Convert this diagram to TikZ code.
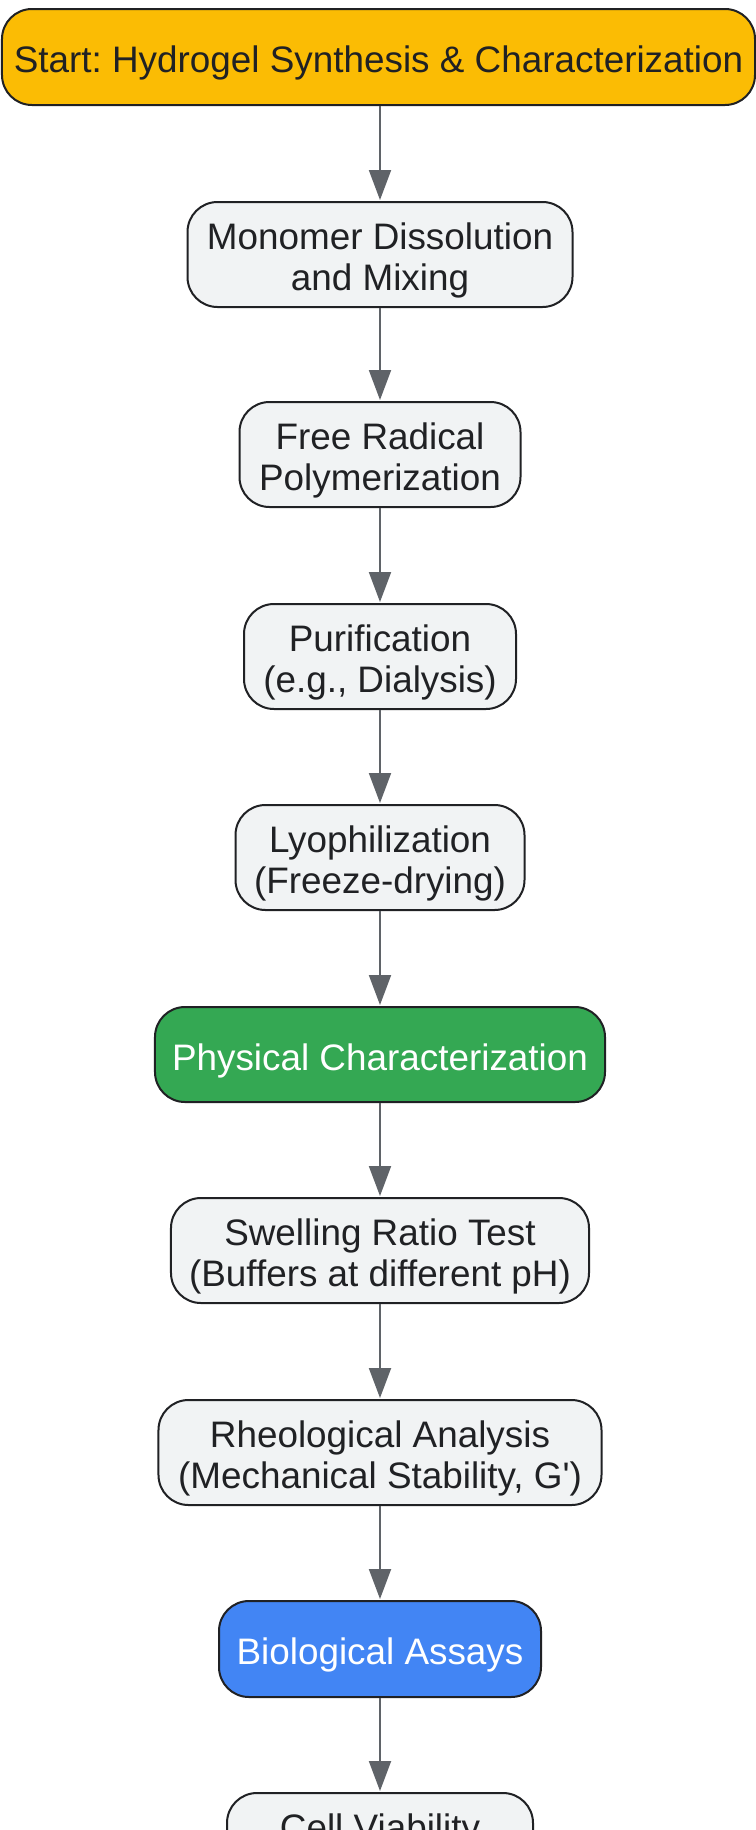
\documentclass[tikz,border=0pt]{standalone}
\usepackage{fontspec}
\setmainfont{Liberation Sans}
\usetikzlibrary{arrows.meta}
\frenchspacing
\definecolor{edgegray}{HTML}{5F6368}
\definecolor{borderdark}{HTML}{202124}
\definecolor{lightfill}{HTML}{F1F3F4}
\definecolor{startyellow}{HTML}{FBBC04}
\definecolor{physgreen}{HTML}{34A853}
\definecolor{bioblue}{HTML}{4285F4}
\tikzset{
  box/.style={draw=borderdark, line width=2bp, rounded corners=30bp, inner sep=0pt, fill=lightfill},
  startbox/.style={box, fill=startyellow},
  greenbox/.style={box, fill=physgreen},
  bluebox/.style={box, fill=bioblue},
  lbl/.style={inner sep=0pt, align=center, text=borderdark, yshift=-6bp,
    font=\fontsize{37}{42}\selectfont},
  lblw/.style={lbl, text=white},
  flow/.style={draw=edgegray, line width=2bp, -{Triangle[length=30bp,width=22bp]}, shorten >=1bp}
}
\begin{document}
\begin{tikzpicture}[x=1bp,y=-1bp]
\useasboundingbox (0,0) rectangle (756,1830);
\fill[white] (0,0) rectangle (756,1830);
\node[startbox, minimum width=753bp, minimum height=96bp,
  label={[lbl]center:Start: Hydrogel Synthesis \& Characterization}] (start) at (378.5,57) {};
\node[box, minimum width=385bp, minimum height=105bp,
  label={[lbl]center:Monomer Dissolution\\and Mixing}] (mono) at (380,254.5) {};
\node[box, minimum width=281bp, minimum height=105bp,
  label={[lbl]center:Free Radical\\Polymerization}] (poly) at (380,454.5) {};
\node[box, minimum width=272bp, minimum height=105bp,
  label={[lbl]center:Purification\\(e.g., Dialysis)}] (puri) at (380,656.5) {};
\node[box, minimum width=289bp, minimum height=105bp,
  label={[lbl]center:Lyophilization\\(Freeze-drying)}] (lyo) at (380,857.5) {};
\node[greenbox, minimum width=450bp, minimum height=95bp,
  label={[lblw]center:Physical Characterization}] (phys) at (380,1054.5) {};
\node[box, minimum width=418bp, minimum height=105bp,
  label={[lbl]center:Swelling Ratio Test\\(Buffers at different pH)}] (swell) at (380,1250.5) {};
\node[box, minimum width=443bp, minimum height=105bp,
  label={[lbl]center:Rheological Analysis\\(Mechanical Stability, G\textquotesingle)}] (rheo) at (380,1452.5) {};
\node[bluebox, minimum width=322bp, minimum height=96bp,
  label={[lblw]center:Biological Assays}] (bio) at (380,1649) {};
\node[box, minimum width=306bp, minimum height=105bp,
  label={[lbl]center:Cell Viability\\\vphantom{Cy}}] (cell) at (380,1845.5) {};
\draw[flow] (start.south -| mono.north) -- (mono.north);
\draw[flow] (mono) -- (poly);
\draw[flow] (poly) -- (puri);
\draw[flow] (puri) -- (lyo);
\draw[flow] (lyo) -- (phys);
\draw[flow] (phys) -- (swell);
\draw[flow] (swell) -- (rheo);
\draw[flow] (rheo) -- (bio);
\draw[flow] (bio) -- (cell);
\end{tikzpicture}
\end{document}
